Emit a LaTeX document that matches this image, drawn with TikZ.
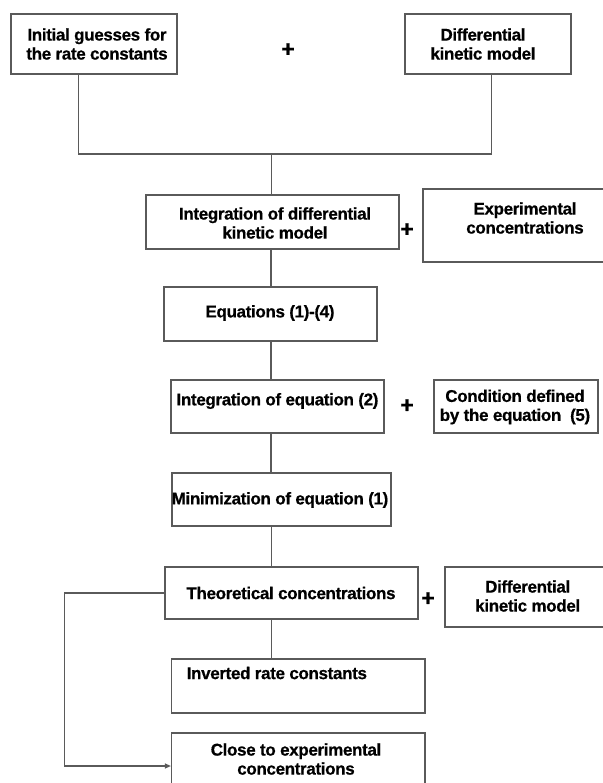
\documentclass[tikz,border=0pt]{standalone}
\usepackage{fontspec}
\newfontfamily\labfont{Liberation Sans}[LetterSpace=-2,BoldFeatures={FakeBold=0.6}]
\usetikzlibrary{arrows.meta,calc}
\definecolor{edge}{HTML}{5A5A5A}
\tikzset{
  boxst/.style={draw=edge, line width=1.2pt, rectangle, inner sep=0pt},
  lbl/.style={font=\labfont\bfseries\fontsize{17}{19}\selectfont, align=center, inner sep=0pt, text=black},
  plusst/.style={font=\labfont\bfseries\fontsize{23}{23}\selectfont, inner sep=0pt},
  conn/.style={draw=edge, line width=1.2pt},
}
\begin{document}
\begin{tikzpicture}[x=1pt,y=-1pt]
\useasboundingbox (0,0) rectangle (602,783);
% boxes
\node[boxst, minimum width=166, minimum height=60] (b1) at (94,44) {};
\node[boxst, minimum width=166, minimum height=60] (b2) at (488,44) {};
\node[boxst, minimum width=253, minimum height=54] (b3) at (272.5,222) {};
\node[boxst, minimum width=187, minimum height=73] (b4) at (516.5,225.5) {};
\node[boxst, minimum width=213, minimum height=54] (b5) at (270.5,314) {};
\node[boxst, minimum width=213, minimum height=53] (b6) at (277.5,406.5) {};
\node[boxst, minimum width=164, minimum height=53] (b7) at (516,406.5) {};
\node[boxst, minimum width=219, minimum height=53] (b8) at (281.5,499.5) {};
\node[boxst, minimum width=253, minimum height=52] (b9) at (291.5,593) {};
\node[boxst, minimum width=165, minimum height=60] (b10) at (527.5,597) {};
\node[boxst, minimum width=253.5, minimum height=54] (b11) at (298.25,686) {};
\node[boxst, minimum width=253.5, minimum height=67] (b12) at (298.25,766.5) {};
% texts
\node[lbl] (t1) at (97,44) {Initial guesses for\\the rate constants};
\node[lbl] (t2) at (483,44) {Differential\\kinetic model};
\node[lbl] (t3) at (275,223) {Integration of differential\\kinetic model};
\node[lbl] (t4) at (525,218) {Experimental\\concentrations};
\node[lbl] (t5) at (270,313) {Equations (1)-(4)};
\node[lbl] (t6) at (277.5,401) {Integration of equation (2)};
\node[lbl] (t7) at (515,407) {Condition defined\\by the equation\ \ (5)};
\node[lbl] (t8) at (280,500) {Minimization of equation (1)};
\node[lbl] (t9) at (291,593) {Theoretical concentrations};
\node[lbl] (t10) at (527.7,596) {Differential\\kinetic model};
\node[lbl, anchor=west] (t11) at (186.5,673) {Inverted rate constants};
\node[lbl] (t12) at (296,759) {Close to experimental\\concentrations};
% plus signs
\node[plusst] (p1) at (288,50) {+};
\node[plusst] (p2) at (407,230) {+};
\node[plusst] (p3) at (407,406) {+};
\node[plusst] (p4) at (428,599) {+};
% connectors
\coordinate (jl) at (78.5,154);
\coordinate (jr) at (491.5,154);
\coordinate (jc) at (271.5,154);
\coordinate (sp) at (271,0);
\draw[conn] (b1.south -| jl) -- (jl) -- (jr) -- (b2.south -| jr);
\draw[conn] (jc) -- (b3.north -| jc);
\draw[conn] (b3.south -| sp) -- (b5.north -| sp);
\draw[conn] (b5.south -| sp) -- (b6.north -| sp);
\draw[conn] (b6.south -| sp) -- (b8.north -| sp);
\draw[conn] (b8.south -| jc) -- (b9.north -| jc);
\draw[conn] (b9.south -| jc) -- (b11.north -| jc);
\coordinate (fb) at (64.6,766);
\draw[conn, -{Triangle[length=6pt,width=5pt]}] (b9.west) -- (b9.west -| fb) -- (fb) -- (b12.west |- fb);
\end{tikzpicture}
\end{document}
